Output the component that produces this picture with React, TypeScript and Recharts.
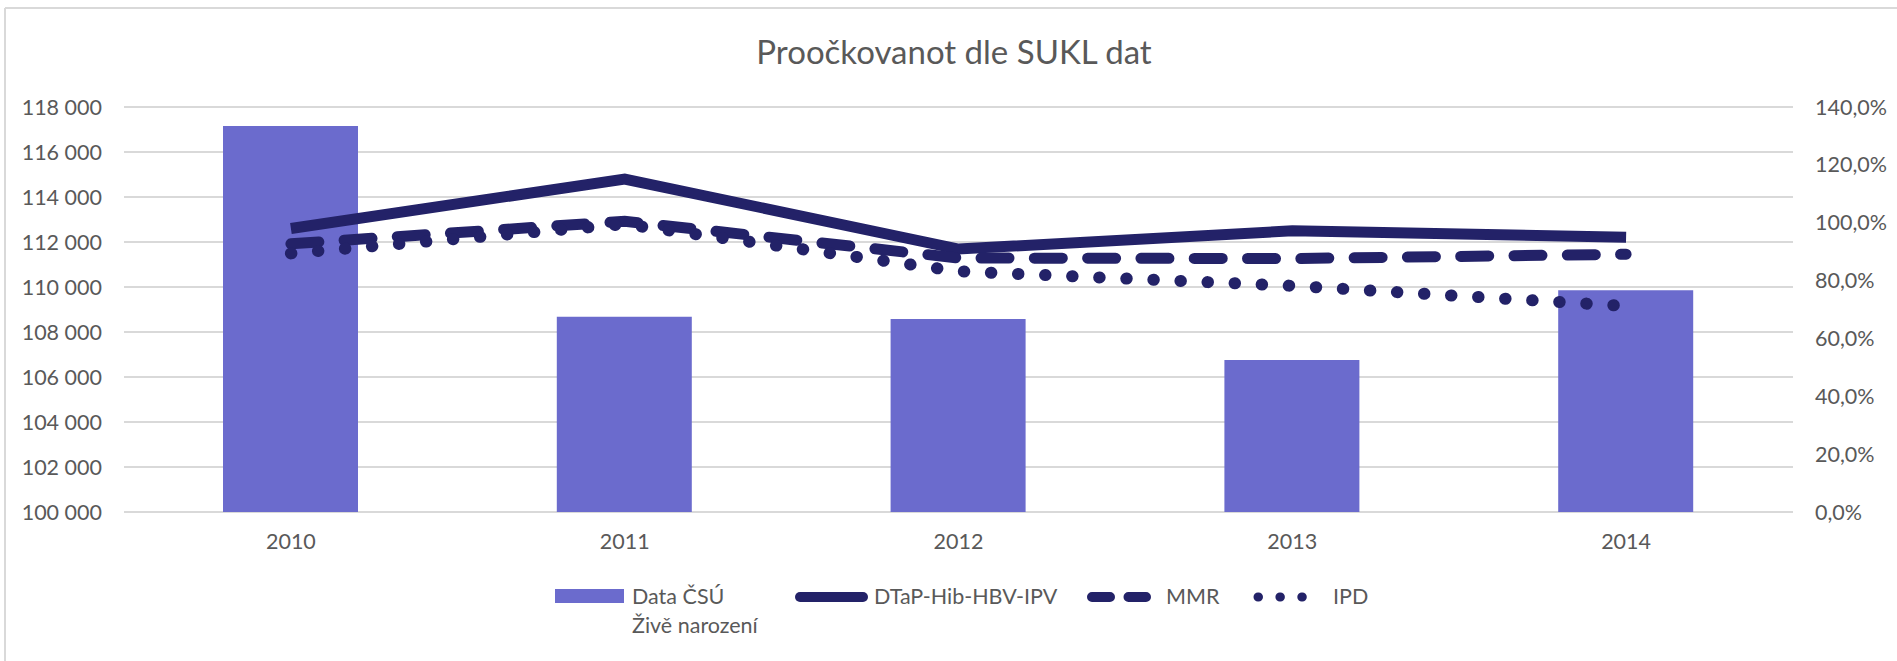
import React from 'react';
import { ComposedChart, Bar, Line, XAxis, YAxis, CartesianGrid } from 'recharts';

// ---- data ----
const years = ['2010', '2011', '2012', '2013', '2014'];
const births = [117153, 108673, 108576, 106751, 109860];
const dtap = [0.980, 1.151, 0.909, 0.972, 0.950];
const mmr = [0.927, 1.005, 0.878, 0.876, 0.891];
const ipd = [0.894, 0.995, 0.832, 0.782, 0.712];
const leftTicks = [100000, 102000, 104000, 106000, 108000, 110000, 112000, 114000, 116000, 118000];
const rightTicks = [0, 0.2, 0.4, 0.6, 0.8, 1.0, 1.2, 1.4];
const titleText = 'Proočkovanot dle SUKL dat';
const barName = ['Data ČSÚ', 'Živě narození'];
const lineNames = ['DTaP-Hib-HBV-IPV', 'MMR', 'IPD'];

const data = years.map((y, i) => ({ year: y, births: births[i], dtap: dtap[i], mmr: mmr[i], ipd: ipd[i] }));

const BAR = '#6B6BCD';
const NAVY = '#232268';
const TXT = '#595959';
const GRID = '#D9D9D9';
const FONT = 'Lato, "Open Sans", sans-serif';

const fmtLeft = (v: number) => {
  const s = String(Math.round(v));
  return s.replace(/\B(?=(\d{3})+(?!\d))/g, ' ');
};
const fmtRight = (v: number) => (v * 100).toFixed(1).replace('.', ',') + '%';

const tickStyle = { fill: TXT, fontSize: 21.5, fontFamily: FONT };

export default function App() {
  return (
    <div style={{ position: 'absolute', left: 0, top: 0, width: 1897, height: 661, background: '#fff', overflow: 'hidden' }}>
      <svg width={1897} height={661} style={{ position: 'absolute', left: 0, top: 0 }}>
        <line x1={5} y1={8} x2={1897} y2={8} stroke={GRID} strokeWidth={2} />
        <line x1={5} y1={8} x2={5} y2={661} stroke={GRID} strokeWidth={2} />
        <text x={954} y={64} textAnchor="middle" fill={TXT} fontSize={33} fontFamily={FONT}>{titleText}</text>
        {/* legend */}
        <rect x={555} y={589} width={69} height={14} fill={BAR} />
        <text x={632} y={603.5} fill={TXT} fontSize={21.5} fontFamily={FONT}>{barName[0]}</text>
        <text x={632} y={633} fill={TXT} fontSize={21.5} fontFamily={FONT}>{barName[1]}</text>
        <line x1={800} y1={597} x2={863} y2={597} stroke={NAVY} strokeWidth={10} strokeLinecap="round" />
        <text x={874} y={603.5} fill={TXT} fontSize={21.5} fontFamily={FONT}>{lineNames[0]}</text>
        <line x1={1092} y1={597} x2={1146} y2={597} stroke={NAVY} strokeWidth={10} strokeLinecap="round" strokeDasharray="18 18.5" />
        <text x={1166} y={603.5} fill={TXT} fontSize={21.5} fontFamily={FONT}>{lineNames[1]}</text>
        <line x1={1258} y1={597} x2={1320} y2={597} stroke={NAVY} strokeWidth={9} strokeLinecap="round" strokeDasharray="0.5 21.4" />
        <text x={1333} y={603.5} fill={TXT} fontSize={21.5} fontFamily={FONT}>{lineNames[2]}</text>
      </svg>
      <div style={{ position: 'absolute', left: 0, top: 0 }}>
        <ComposedChart width={1897} height={661} data={data} margin={{ top: 107, right: 0, bottom: 109, left: 0 }}>
          <CartesianGrid yAxisId="left" vertical={false} stroke={GRID} strokeWidth={2} />
          <XAxis dataKey="year" height={40} axisLine={false} tickLine={false} tickSize={0} tickMargin={22} tick={tickStyle} interval={0} />
          <YAxis yAxisId="left" orientation="left" width={124} domain={[100000, 118000]} ticks={leftTicks} tickFormatter={fmtLeft}
            axisLine={false} tickLine={false} tickSize={0} tickMargin={22} tick={tickStyle} allowDataOverflow />
          <YAxis yAxisId="right" orientation="right" width={104} domain={[0, 1.4]} ticks={rightTicks} tickFormatter={fmtRight}
            axisLine={false} tickLine={false} tickSize={0} tickMargin={22} tick={{ ...tickStyle, textAnchor: 'start' }} allowDataOverflow />
          <Bar yAxisId="left" dataKey="births" fill={BAR} barSize={135} isAnimationActive={false} />
          <Line yAxisId="right" dataKey="dtap" stroke={NAVY} strokeWidth={11} dot={false} activeDot={false} isAnimationActive={false} type="linear" />
          <Line yAxisId="right" dataKey="mmr" stroke={NAVY} strokeWidth={11} strokeDasharray="28 25.3" strokeLinecap="round" dot={false} activeDot={false} isAnimationActive={false} type="linear" />
          <Line yAxisId="right" dataKey="ipd" stroke={NAVY} strokeWidth={12} strokeDasharray="0.5 26.6" strokeLinecap="round" dot={false} activeDot={false} isAnimationActive={false} type="linear" />
        </ComposedChart>
      </div>
    </div>
  );
}
